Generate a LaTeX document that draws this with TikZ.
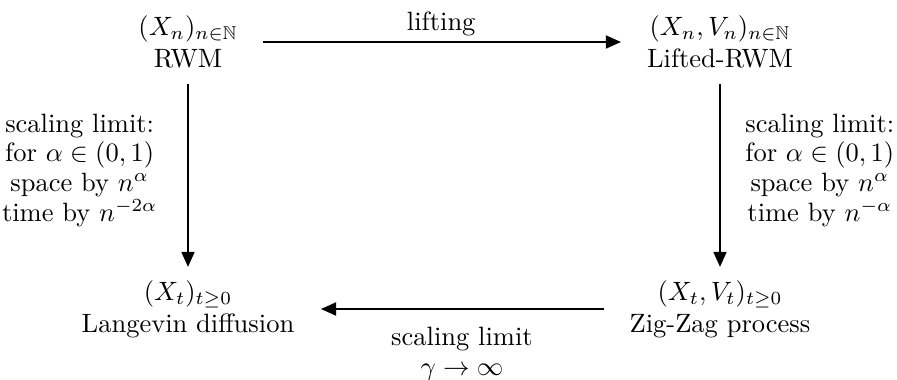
\documentclass[tikz,border=0pt]{standalone}
\usepackage{amssymb}
\usetikzlibrary{arrows.meta}
\begin{document}
\begin{tikzpicture}[x=0.3774pt,y=-0.3774pt,
  proc/.style={align=center, inner sep=0pt},
  flow/.style={-{Triangle[length=5.7pt,width=5pt]}, line width=0.5pt},
  lbl/.style={align=center, font=\fontsize{10}{11.2}\selectfont}]
\useasboundingbox (0,0) rectangle (897,379);

% the four processes
\node[proc] (rwm)  at (188,42)  {$(X_n)_{n\in\mathbb{N}}$\\RWM};
\node[proc] (lrwm) at (720,42)  {$(X_n,V_n)_{n\in\mathbb{N}}$\\Lifted-RWM};
\node[proc] (lang) at (188,309) {$(X_t)_{t\geq 0}$\\Langevin diffusion};
\node[proc] (zz)   at (720,309) {$(X_t,V_t)_{t\geq 0}$\\Zig-Zag process};

% relations between them
\draw[flow, shorten <=28.3pt, shorten >=37.4pt] (rwm.center) -- (lrwm.center)
  node[pos=0.476, above, inner sep=2pt] (liftlbl) {lifting};
\draw[flow, shorten <=15.9pt, shorten >=15.9pt] (rwm.center) -- (lang.center)
  node[lbl, pos=0.48, left=8pt] (rwmlbl)
  {scaling limit:\\for $\alpha\in(0,1)$\\space by $n^{\alpha}$\\time by $n^{-2\alpha}$};
\draw[flow, shorten <=15.9pt, shorten >=15.9pt] (lrwm.center) -- (zz.center)
  node[lbl, pos=0.48, right=6pt] (zzlbl)
  {scaling limit:\\for $\alpha\in(0,1)$\\space by $n^{\alpha}$\\time by $n^{-\alpha}$};
\draw[flow, shorten <=43.8pt, shorten >=50.2pt] (zz.center) -- (lang.center)
  node[lbl, font=\fontsize{10}{11.3}\selectfont, pos=0.485, below=3.3pt] (gammalbl)
  {scaling limit\\$\gamma\to\infty$};
\end{tikzpicture}
\end{document}
